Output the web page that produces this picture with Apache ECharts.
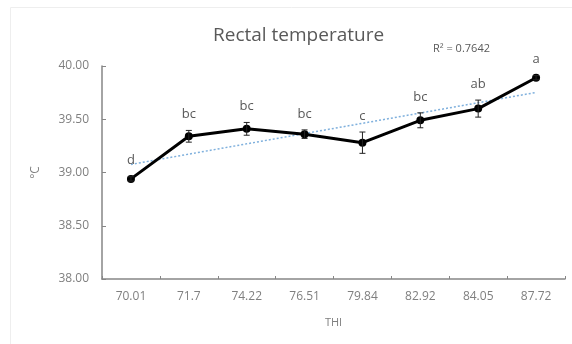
<!DOCTYPE html>
<html><head><meta charset="utf-8">
<script src="https://cdn.jsdelivr.net/npm/echarts@6/dist/echarts.min.js"></script>
<style>html,body{margin:0;padding:0;background:#fff}#c{width:572px;height:344px}</style>
</head><body><div id="c"></div>
<script>
const categories = ['70.01','71.7','74.22','76.51','79.84','82.92','84.05','87.72'];
const temps = [38.94, 39.34, 39.41, 39.36, 39.28, 39.49, 39.60, 39.89];
const errors = [0.02, 0.055, 0.06, 0.04, 0.10, 0.07, 0.08, 0.02];
const letters = ['d','bc','bc','bc','c','bc','ab','a'];
const yTicks = [38, 38.5, 39, 39.5, 40];
const r2Text = 'R² = 0.7642';

// linear trend (least squares over category index)
const n = temps.length;
const mx = (n - 1) / 2;
const my = temps.reduce((a, b) => a + b, 0) / n;
let sxy = 0, sxx = 0;
temps.forEach((v, i) => { sxy += (i - mx) * (v - my); sxx += (i - mx) * (i - mx); });
const slope = sxy / sxx, icpt = my - slope * mx;
const trend = temps.map((v, i) => +(icpt + slope * i).toFixed(4));

const chart = echarts.init(document.getElementById('c'), null, {renderer: 'canvas'});
const grey = '#7f7f7f';
chart.setOption({
  animation: false,
  title: {
    text: 'Rectal temperature', left: 208, top: 21,
    textStyle: {fontFamily: 'Open Sans', fontSize: 19, fontWeight: 'normal', color: '#595959'}
  },
  graphic: [
    {type: 'rect', shape: {x: 10.5, y: 7.5, width: 570, height: 345}, style: {fill: 'none', stroke: '#eeeeee', lineWidth: 1}, silent: true},
    {type: 'text', left: 433, top: 43, style: {text: r2Text, font: '11px "Open Sans"', fill: '#595959'}}
  ],
  grid: {left: 102, right: 7, top: 66, bottom: 65},
  xAxis: {
    type: 'category', data: categories, boundaryGap: true,
    name: 'THI', nameLocation: 'middle', nameGap: 38,
    nameTextStyle: {fontFamily: 'Open Sans', fontSize: 11, color: grey},
    axisLine: {lineStyle: {color: '#868686', width: 1.5}},
    axisTick: {show: true, inside: true, length: 3, alignWithLabel: false, lineStyle: {color: '#868686'}},
    axisLabel: {fontFamily: 'Open Sans', fontSize: 12, color: grey, margin: 12}
  },
  yAxis: {
    type: 'value', min: 38, max: 40, interval: 0.5,
    name: '°C', nameLocation: 'middle', nameGap: 60, nameRotate: 90,
    nameTextStyle: {fontFamily: 'Open Sans', fontSize: 12, color: grey},
    axisLine: {show: true, lineStyle: {color: '#868686', width: 1.5}},
    axisTick: {show: true, inside: true, length: 4, lineStyle: {color: '#868686'}},
    splitLine: {show: false},
    axisLabel: {fontFamily: 'Open Sans', fontSize: 12, color: grey, margin: 13,
      formatter: v => yTicks.includes(v) ? v.toFixed(2) : ''}
  },
  series: [
    {
      type: 'line', data: trend, symbol: 'none', z: 1,
      lineStyle: {color: '#7fb0dd', width: 1.5, type: [2, 2]}
    },
    {
      type: 'line', data: temps, symbol: 'circle', symbolSize: 8, z: 3,
      itemStyle: {color: '#000'}, lineStyle: {color: '#000', width: 3}
    },
    {
      type: 'custom', z: 4,
      data: temps.map((v, i) => [i, v, errors[i]]),
      renderItem: (params, api) => {
        const i = api.value(0), v = api.value(1), e = api.value(2);
        const top = api.coord([i, v + e]);
        const bot = api.coord([i, v - e]);
        const cap = 3;
        const st = {stroke: '#222', lineWidth: 1};
        return {
          type: 'group', children: [
            {type: 'line', shape: {x1: top[0], y1: top[1], x2: bot[0], y2: bot[1]}, style: st},
            {type: 'line', shape: {x1: top[0] - cap, y1: top[1], x2: top[0] + cap, y2: top[1]}, style: st},
            {type: 'line', shape: {x1: bot[0] - cap, y1: bot[1], x2: bot[0] + cap, y2: bot[1]}, style: st},
            {type: 'text', style: {text: letters[i], x: top[0], y: top[1] - 16,
              align: 'center', verticalAlign: 'middle', font: '13px "Open Sans"', fill: '#595959'}}
          ]
        };
      }
    }
  ]
});
</script></body></html>
